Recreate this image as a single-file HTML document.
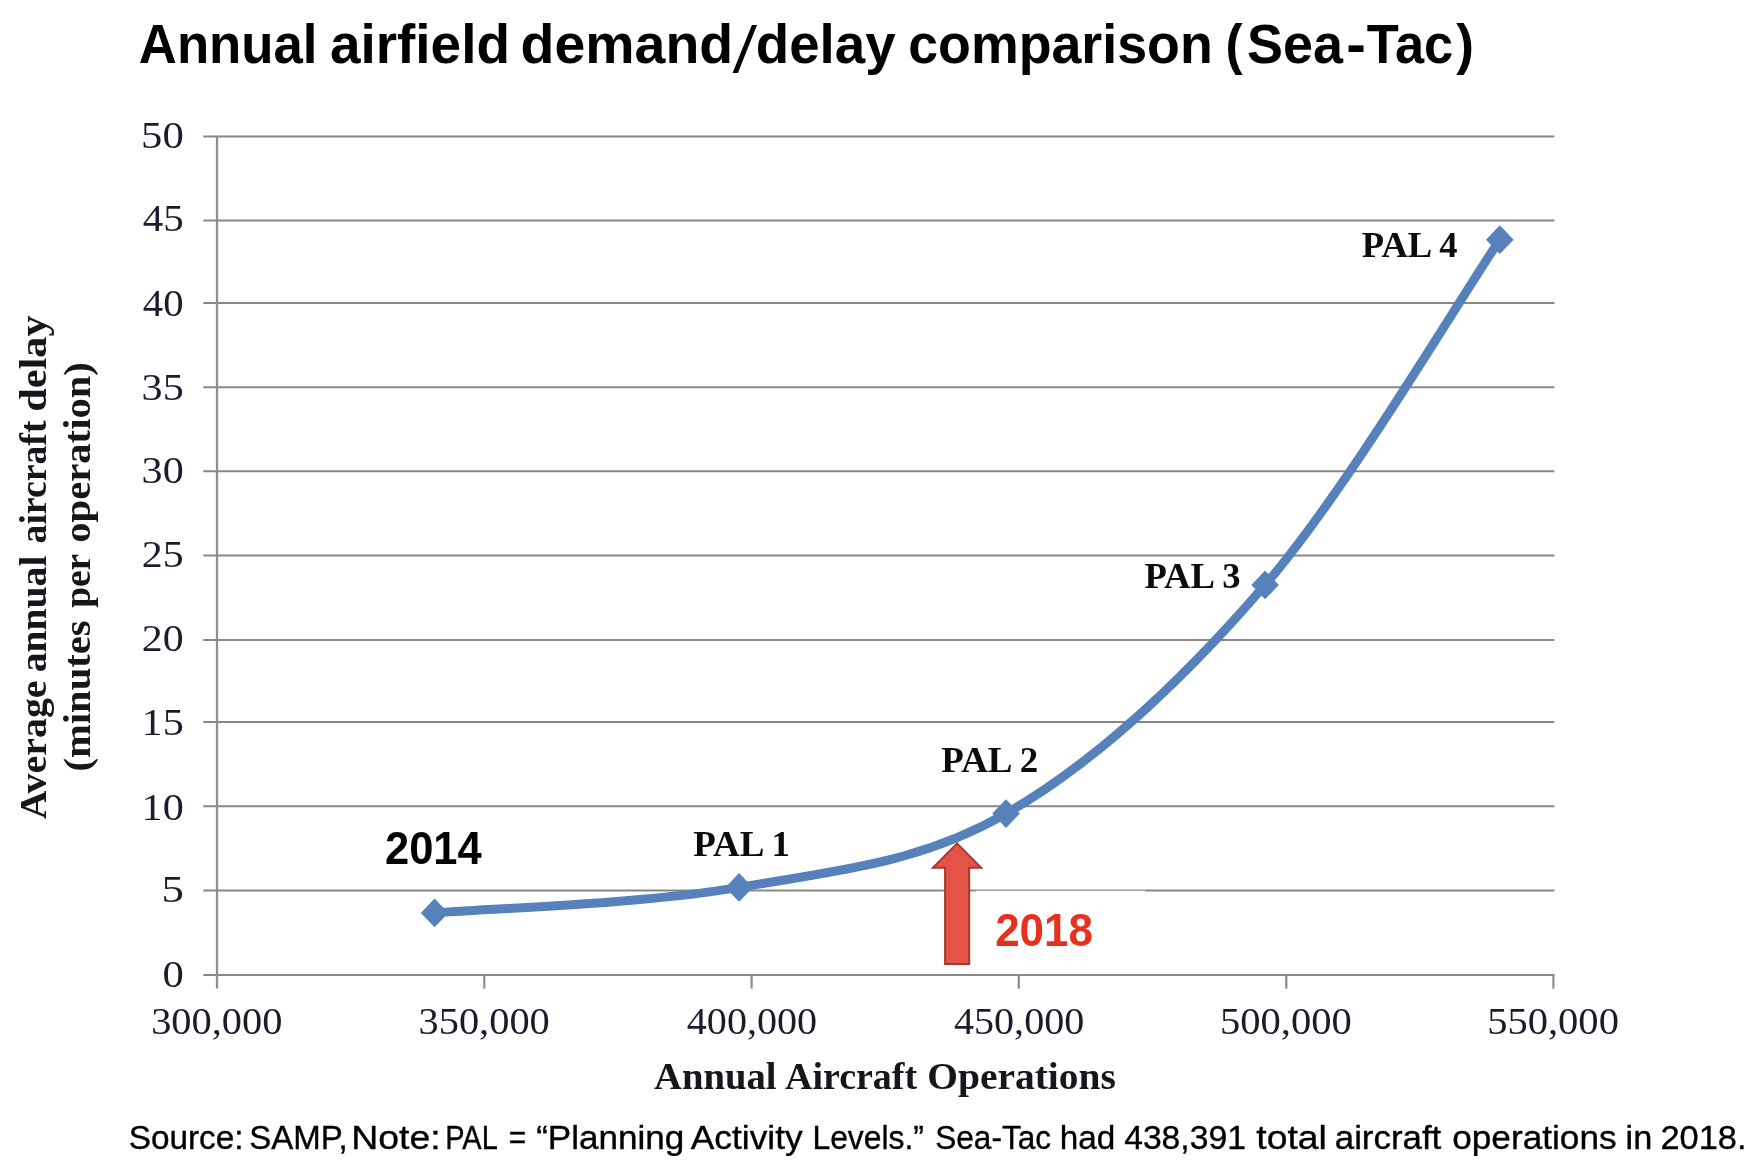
<!DOCTYPE html>
<html lang="en"><head><meta charset="utf-8"><title>Annual airfield demand/delay comparison (Sea-Tac)</title>
<style>
html,body{margin:0;padding:0;background:#fff;}
body{width:1754px;height:1164px;overflow:hidden;position:relative;font-family:"Liberation Sans",sans-serif;}
svg{position:absolute;left:0;top:0;display:block;}
text{white-space:pre;}
</style></head><body>
<svg width="1754" height="1164" viewBox="0 0 1754 1164">
<rect x="0" y="0" width="1754" height="1164" fill="#ffffff"/>
<defs><filter id="soft" x="-1%" y="-1%" width="102%" height="102%" color-interpolation-filters="sRGB"><feGaussianBlur stdDeviation="0.55"/></filter></defs>
<g id="chart" filter="url(#soft)">
<g stroke="#878787" stroke-width="2" fill="none">
<line x1="203.3" y1="136.60" x2="1554.40" y2="136.60"/>
<line x1="203.3" y1="220.40" x2="1554.40" y2="220.40"/>
<line x1="203.3" y1="302.90" x2="1554.40" y2="302.90"/>
<line x1="203.3" y1="387.20" x2="1554.40" y2="387.20"/>
<line x1="203.3" y1="471.30" x2="1554.40" y2="471.30"/>
<line x1="203.3" y1="555.50" x2="1554.40" y2="555.50"/>
<line x1="203.3" y1="639.90" x2="1554.40" y2="639.90"/>
<line x1="203.3" y1="722.10" x2="1554.40" y2="722.10"/>
<line x1="203.3" y1="806.30" x2="1554.40" y2="806.30"/>
<line x1="203.3" y1="890.60" x2="1554.40" y2="890.60"/>
<line x1="203.3" y1="975.10" x2="1554.40" y2="975.10"/>
<line x1="217.00" y1="136.20" x2="217.00" y2="988.4" stroke-width="2.3" stroke="#8d8d8d"/>
<line x1="484.30" y1="975.10" x2="484.30" y2="988.6" stroke-width="2.2" stroke="#8d8d8d"/>
<line x1="751.60" y1="975.10" x2="751.60" y2="988.6" stroke-width="2.2" stroke="#8d8d8d"/>
<line x1="1018.80" y1="975.10" x2="1018.80" y2="988.6" stroke-width="2.2" stroke="#8d8d8d"/>
<line x1="1286.30" y1="975.10" x2="1286.30" y2="988.6" stroke-width="2.2" stroke="#8d8d8d"/>
<line x1="1553.40" y1="975.10" x2="1553.40" y2="988.6" stroke-width="2.2" stroke="#8d8d8d"/>
</g>
<path d="M434.60 912.90 C485.35 908.65 643.87 903.95 739.10 887.40 C834.33 870.85 918.33 864.02 1006.00 813.60 C1093.67 763.18 1182.80 680.55 1265.10 584.90 C1347.40 489.25 1460.68 297.23 1499.80 239.70" fill="none" stroke="#5681BB" stroke-width="9.0" stroke-linecap="round" stroke-linejoin="round"/>
<path d="M434.60 898.50 L448.40 912.90 L434.60 927.30 L420.80 912.90 Z" fill="#5681BB"/>
<path d="M739.10 873.00 L752.90 887.40 L739.10 901.80 L725.30 887.40 Z" fill="#5681BB"/>
<path d="M1006.00 799.20 L1019.80 813.60 L1006.00 828.00 L992.20 813.60 Z" fill="#5681BB"/>
<path d="M1265.10 570.50 L1278.90 584.90 L1265.10 599.30 L1251.30 584.90 Z" fill="#5681BB"/>
<path d="M1499.80 225.30 L1513.60 239.70 L1499.80 254.10 L1486.00 239.70 Z" fill="#5681BB"/>
<text id="y50" font-family='"Liberation Serif",serif' font-size="38.60" font-weight="normal" fill="#1b1b2d" textLength="42.71" lengthAdjust="spacingAndGlyphs" x="141.10" y="147.50">50</text>
<text id="y45" font-family='"Liberation Serif",serif' font-size="38.60" font-weight="normal" fill="#1b1b2d" textLength="40.96" lengthAdjust="spacingAndGlyphs" x="142.85" y="231.30">45</text>
<text id="y40" font-family='"Liberation Serif",serif' font-size="38.60" font-weight="normal" fill="#1b1b2d" textLength="40.69" lengthAdjust="spacingAndGlyphs" x="142.85" y="316.00">40</text>
<text id="y35" font-family='"Liberation Serif",serif' font-size="38.60" font-weight="normal" fill="#1b1b2d" textLength="42.14" lengthAdjust="spacingAndGlyphs" x="141.60" y="400.30">35</text>
<text id="y30" font-family='"Liberation Serif",serif' font-size="38.60" font-weight="normal" fill="#1b1b2d" textLength="42.14" lengthAdjust="spacingAndGlyphs" x="141.60" y="482.50">30</text>
<text id="y25" font-family='"Liberation Serif",serif' font-size="38.60" font-weight="normal" fill="#1b1b2d" textLength="41.84" lengthAdjust="spacingAndGlyphs" x="141.85" y="566.60">25</text>
<text id="y20" font-family='"Liberation Serif",serif' font-size="38.60" font-weight="normal" fill="#1b1b2d" textLength="41.84" lengthAdjust="spacingAndGlyphs" x="141.85" y="651.00">20</text>
<text id="y15" font-family='"Liberation Serif",serif' font-size="38.60" font-weight="normal" fill="#1b1b2d" textLength="42.21" lengthAdjust="spacingAndGlyphs" x="141.55" y="735.20">15</text>
<text id="y10" font-family='"Liberation Serif",serif' font-size="38.60" font-weight="normal" fill="#1b1b2d" textLength="42.21" lengthAdjust="spacingAndGlyphs" x="141.55" y="819.90">10</text>
<text id="y5" font-family='"Liberation Serif",serif' font-size="38.60" font-weight="normal" fill="#1b1b2d" textLength="22.42" lengthAdjust="spacingAndGlyphs" x="161.50" y="902.00">5</text>
<text id="y0" font-family='"Liberation Serif",serif' font-size="38.60" font-weight="normal" fill="#1b1b2d" textLength="21.32" lengthAdjust="spacingAndGlyphs" x="162.50" y="986.60">0</text>
<text id="x300" font-family='"Liberation Serif",serif' font-size="38.80" font-weight="normal" fill="#1b1b2d" textLength="131.23" lengthAdjust="spacingAndGlyphs" x="151.15" y="1033.80">300,000</text>
<text id="x350" font-family='"Liberation Serif",serif' font-size="38.80" font-weight="normal" fill="#1b1b2d" textLength="131.22" lengthAdjust="spacingAndGlyphs" x="418.55" y="1033.80">350,000</text>
<text id="x400" font-family='"Liberation Serif",serif' font-size="38.80" font-weight="normal" fill="#1b1b2d" textLength="130.16" lengthAdjust="spacingAndGlyphs" x="686.85" y="1033.80">400,000</text>
<text id="x450" font-family='"Liberation Serif",serif' font-size="38.80" font-weight="normal" fill="#1b1b2d" textLength="130.16" lengthAdjust="spacingAndGlyphs" x="954.05" y="1033.80">450,000</text>
<text id="x500" font-family='"Liberation Serif",serif' font-size="38.80" font-weight="normal" fill="#1b1b2d" textLength="131.76" lengthAdjust="spacingAndGlyphs" x="1220.05" y="1033.80">500,000</text>
<text id="x550" font-family='"Liberation Serif",serif' font-size="38.80" font-weight="normal" fill="#1b1b2d" textLength="131.76" lengthAdjust="spacingAndGlyphs" x="1487.15" y="1033.80">550,000</text>
<text id="xt0" font-family='"Liberation Serif",serif' font-size="38.50" font-weight="bold" fill="#16161c" textLength="122.51" lengthAdjust="spacingAndGlyphs" x="654.00" y="1089.00">Annual</text>
<text id="xt1" font-family='"Liberation Serif",serif' font-size="38.50" font-weight="bold" fill="#16161c" textLength="132.16" lengthAdjust="spacingAndGlyphs" x="785.00" y="1089.00">Aircraft</text>
<text id="xt2" font-family='"Liberation Serif",serif' font-size="38.50" font-weight="bold" fill="#16161c" textLength="188.62" lengthAdjust="spacingAndGlyphs" x="927.25" y="1089.00">Operations</text>
<text id="yla0" font-family='"Liberation Serif",serif' font-size="38.20" font-weight="bold" fill="#16161c" textLength="138.79" lengthAdjust="spacingAndGlyphs" transform="translate(45.80 819.25) rotate(-90)" x="0" y="0">Average</text>
<text id="yla1" font-family='"Liberation Serif",serif' font-size="38.20" font-weight="bold" fill="#16161c" textLength="116.68" lengthAdjust="spacingAndGlyphs" transform="translate(45.80 672.25) rotate(-90)" x="0" y="0">annual</text>
<text id="yla2" font-family='"Liberation Serif",serif' font-size="38.20" font-weight="bold" fill="#16161c" textLength="122.98" lengthAdjust="spacingAndGlyphs" transform="translate(45.80 543.50) rotate(-90)" x="0" y="0">aircraft</text>
<text id="yla3" font-family='"Liberation Serif",serif' font-size="38.20" font-weight="bold" fill="#16161c" textLength="96.29" lengthAdjust="spacingAndGlyphs" transform="translate(45.80 411.75) rotate(-90)" x="0" y="0">delay</text>
<text id="ylb0" font-family='"Liberation Serif",serif' font-size="38.20" font-weight="bold" fill="#16161c" textLength="151.09" lengthAdjust="spacingAndGlyphs" transform="translate(90.30 771.50) rotate(-90)" x="0" y="0">(minutes</text>
<text id="ylb1" font-family='"Liberation Serif",serif' font-size="38.20" font-weight="bold" fill="#16161c" textLength="53.96" lengthAdjust="spacingAndGlyphs" transform="translate(90.30 607.75) rotate(-90)" x="0" y="0">per</text>
<text id="ylb2" font-family='"Liberation Serif",serif' font-size="38.20" font-weight="bold" fill="#16161c" textLength="180.64" lengthAdjust="spacingAndGlyphs" transform="translate(90.30 542.75) rotate(-90)" x="0" y="0">operation)</text>
<text id="p1" font-family='"Liberation Serif",serif' font-size="35.00" font-weight="bold" fill="#0b0b10" textLength="96.87" lengthAdjust="spacingAndGlyphs" x="693.15" y="856.20">PAL 1</text>
<text id="p2" font-family='"Liberation Serif",serif' font-size="35.00" font-weight="bold" fill="#0b0b10" textLength="96.85" lengthAdjust="spacingAndGlyphs" x="941.35" y="772.30">PAL 2</text>
<text id="p3" font-family='"Liberation Serif",serif' font-size="35.00" font-weight="bold" fill="#0b0b10" textLength="96.07" lengthAdjust="spacingAndGlyphs" x="1144.45" y="587.50">PAL 3</text>
<text id="p4" font-family='"Liberation Serif",serif' font-size="35.00" font-weight="bold" fill="#0b0b10" textLength="95.79" lengthAdjust="spacingAndGlyphs" x="1361.85" y="256.60">PAL 4</text>
</g>
<rect x="975.9" y="890.70" width="169.4" height="70" fill="#ffffff"/>
<path d="M957.05 843.4 L981.2 867.7 L969.2 867.7 L969.2 964.1 L945.1 964.1 L945.1 867.7 L932.9 867.7 Z" fill="#E55347" stroke="#A8392F" stroke-width="2" stroke-linejoin="miter"/>
<text id="t1" font-family='"Liberation Sans",sans-serif' font-size="55.40" font-weight="bold" fill="#000" textLength="178.69" lengthAdjust="spacingAndGlyphs" x="138.80" y="62.90">Annual</text>
<text id="t2" font-family='"Liberation Sans",sans-serif' font-size="55.40" font-weight="bold" fill="#000" textLength="180.08" lengthAdjust="spacingAndGlyphs" x="329.90" y="62.90">airfield</text>
<text id="t3a" font-family='"Liberation Sans",sans-serif' font-size="55.40" font-weight="bold" fill="#000" textLength="212.68" lengthAdjust="spacingAndGlyphs" x="520.50" y="62.90">demand</text>
<text id="t3b" font-family='"Liberation Sans",sans-serif' font-size="55.40" font-weight="bold" fill="#000" textLength="139.82" lengthAdjust="spacingAndGlyphs" x="755.75" y="62.90">delay</text>
<text id="t4" font-family='"Liberation Sans",sans-serif' font-size="55.40" font-weight="bold" fill="#000" textLength="304.54" lengthAdjust="spacingAndGlyphs" x="908.20" y="62.90">comparison</text>
<text id="t5a" font-family='"Liberation Sans",sans-serif' font-size="55.40" font-weight="bold" fill="#000" textLength="17.15" lengthAdjust="spacingAndGlyphs" x="1225.50" y="62.90">(</text>
<text id="t5b" font-family='"Liberation Sans",sans-serif' font-size="55.40" font-weight="bold" fill="#000" textLength="95.98" lengthAdjust="spacingAndGlyphs" x="1247.00" y="62.90">Sea</text>
<text id="t5c" font-family='"Liberation Sans",sans-serif' font-size="55.40" font-weight="bold" fill="#000" textLength="19.62" lengthAdjust="spacingAndGlyphs" x="1346.25" y="62.90">-</text>
<text id="t5d" font-family='"Liberation Sans",sans-serif' font-size="55.40" font-weight="bold" fill="#000" textLength="86.47" lengthAdjust="spacingAndGlyphs" x="1366.75" y="62.90">Tac</text>
<text id="t5e" font-family='"Liberation Sans",sans-serif' font-size="55.40" font-weight="bold" fill="#000" textLength="17.74" lengthAdjust="spacingAndGlyphs" x="1456.25" y="62.90">)</text>
<text id="y14" font-family='"Liberation Sans",sans-serif' font-size="46.00" font-weight="bold" fill="#000" textLength="96.79" lengthAdjust="spacingAndGlyphs" x="384.95" y="864.20">2014</text>
<text id="y18" font-family='"Liberation Sans",sans-serif' font-size="46.00" font-weight="bold" fill="#E8301F" textLength="97.70" lengthAdjust="spacingAndGlyphs" x="995.15" y="946.40">2018</text>
<text id="f0" font-family='"Liberation Sans",sans-serif' font-size="32.40" font-weight="normal" fill="#000" stroke="#000" stroke-width="0.35" textLength="114.88" lengthAdjust="spacingAndGlyphs" x="128.70" y="1148.60">Source:</text>
<text id="f1" font-family='"Liberation Sans",sans-serif' font-size="32.40" font-weight="normal" fill="#000" stroke="#000" stroke-width="0.35" textLength="98.31" lengthAdjust="spacingAndGlyphs" x="249.30" y="1148.60">SAMP,</text>
<text id="f2" font-family='"Liberation Sans",sans-serif' font-size="32.40" font-weight="normal" fill="#000" stroke="#000" stroke-width="0.35" textLength="89.35" lengthAdjust="spacingAndGlyphs" x="351.30" y="1148.60">Note:</text>
<text id="f3" font-family='"Liberation Sans",sans-serif' font-size="32.40" font-weight="normal" fill="#000" stroke="#000" stroke-width="0.35" textLength="52.65" lengthAdjust="spacingAndGlyphs" x="445.20" y="1148.60">PAL</text>
<text id="f4" font-family='"Liberation Sans",sans-serif' font-size="32.40" font-weight="normal" fill="#000" stroke="#000" stroke-width="0.35" textLength="17.49" lengthAdjust="spacingAndGlyphs" x="508.85" y="1148.60">=</text>
<text id="f5" font-family='"Liberation Sans",sans-serif' font-size="32.40" font-weight="normal" fill="#000" stroke="#000" stroke-width="0.35" textLength="148.19" lengthAdjust="spacingAndGlyphs" x="536.15" y="1148.60">“Planning</text>
<text id="f6" font-family='"Liberation Sans",sans-serif' font-size="32.40" font-weight="normal" fill="#000" stroke="#000" stroke-width="0.35" textLength="111.93" lengthAdjust="spacingAndGlyphs" x="690.80" y="1148.60">Activity</text>
<text id="f7" font-family='"Liberation Sans",sans-serif' font-size="32.40" font-weight="normal" fill="#000" stroke="#000" stroke-width="0.35" textLength="111.51" lengthAdjust="spacingAndGlyphs" x="812.45" y="1148.60">Levels.”</text>
<text id="f8" font-family='"Liberation Sans",sans-serif' font-size="32.40" font-weight="normal" fill="#000" stroke="#000" stroke-width="0.35" textLength="115.98" lengthAdjust="spacingAndGlyphs" x="935.15" y="1148.60">Sea-Tac</text>
<text id="f9" font-family='"Liberation Sans",sans-serif' font-size="32.40" font-weight="normal" fill="#000" stroke="#000" stroke-width="0.35" textLength="55.51" lengthAdjust="spacingAndGlyphs" x="1059.70" y="1148.60">had</text>
<text id="f10" font-family='"Liberation Sans",sans-serif' font-size="32.40" font-weight="normal" fill="#000" stroke="#000" stroke-width="0.35" textLength="121.79" lengthAdjust="spacingAndGlyphs" x="1124.15" y="1148.60">438,391</text>
<text id="f11" font-family='"Liberation Sans",sans-serif' font-size="32.40" font-weight="normal" fill="#000" stroke="#000" stroke-width="0.35" textLength="70.50" lengthAdjust="spacingAndGlyphs" x="1256.35" y="1148.60">total</text>
<text id="f12" font-family='"Liberation Sans",sans-serif' font-size="32.40" font-weight="normal" fill="#000" stroke="#000" stroke-width="0.35" textLength="106.51" lengthAdjust="spacingAndGlyphs" x="1334.75" y="1148.60">aircraft</text>
<text id="f13" font-family='"Liberation Sans",sans-serif' font-size="32.40" font-weight="normal" fill="#000" stroke="#000" stroke-width="0.35" textLength="164.44" lengthAdjust="spacingAndGlyphs" x="1452.20" y="1148.60">operations</text>
<text id="f14" font-family='"Liberation Sans",sans-serif' font-size="32.40" font-weight="normal" fill="#000" stroke="#000" stroke-width="0.35" textLength="26.73" lengthAdjust="spacingAndGlyphs" x="1625.60" y="1148.60">in</text>
<text id="f15" font-family='"Liberation Sans",sans-serif' font-size="32.40" font-weight="normal" fill="#000" stroke="#000" stroke-width="0.35" textLength="86.05" lengthAdjust="spacingAndGlyphs" x="1660.40" y="1148.60">2018.</text>
<path d="M751.9 25 L757 25 L737.9 72.9 L732.6 72.9 Z" fill="#000"/>
</svg>
</body></html>
